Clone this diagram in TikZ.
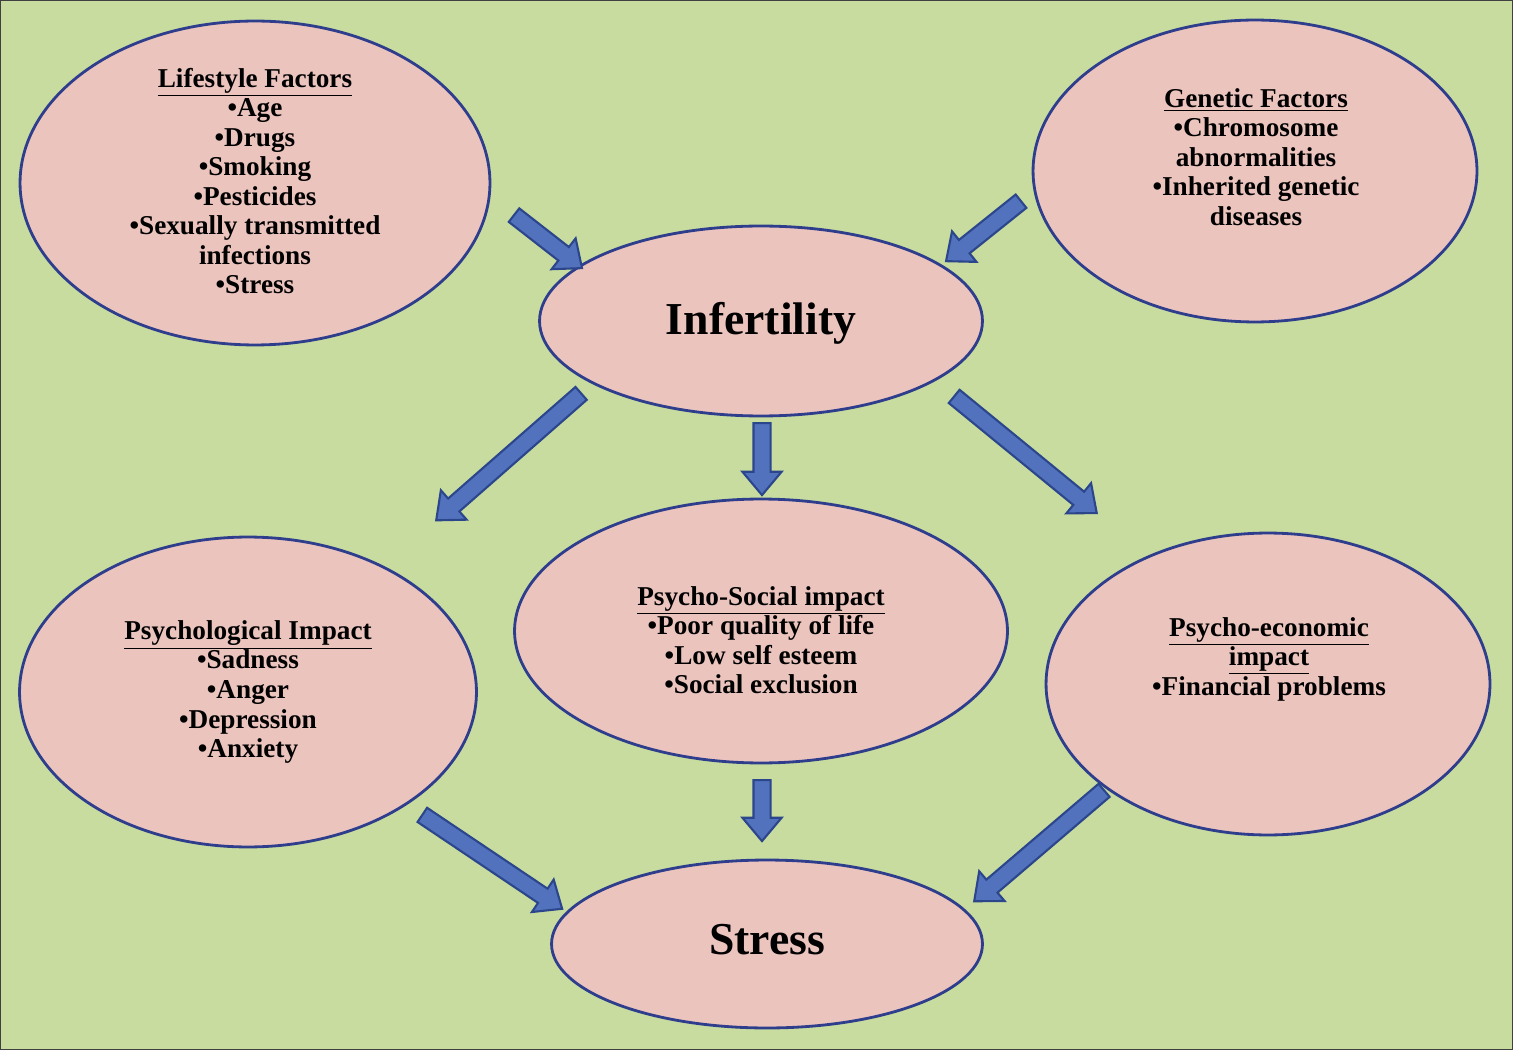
\documentclass[tikz,border=0pt]{standalone}
\usepackage{fontspec}
\setmainfont{Liberation Serif}
\usetikzlibrary{shapes.geometric,shapes.arrows,calc}
\definecolor{bggreen}{RGB}{200,220,160}
\definecolor{pinkfill}{RGB}{236,196,190}
\definecolor{ringblue}{RGB}{46,62,140}
\definecolor{arrowfill}{RGB}{82,114,190}
\definecolor{arrowedge}{RGB}{44,70,140}
\tikzset{
    bubble/.style={ellipse,draw=ringblue,fill=pinkfill,line width=1.6pt,inner sep=0pt},
    bubbletext/.style={align=center,font=\bfseries\fontsize{15.5}{16.8}\selectfont},
    bigtext/.style={font=\bfseries\fontsize{26}{30}\selectfont},
    fatarrow/.style={single arrow,draw=arrowedge,fill=arrowfill,line width=1.2pt,
        inner sep=0.15cm,single arrow head extend=0.22cm,single arrow tip angle=80,
        sloped,allow upside down,midway}
}
\begin{document}
\begin{tikzpicture}[x=0.02cm,y=-0.02cm]
        \useasboundingbox (0,0) rectangle (1513,1050);
        \draw[fill=bggreen,draw=black!75,line width=1.5pt] (0,0) rectangle (1513,1050);

        \node (life)    at (255,183)  [bubble,minimum width=9.4cm,minimum height=6.48cm] {};
        \node (gen)     at (1255,171) [bubble,minimum width=8.88cm,minimum height=6.04cm] {};
        \node (infert)  at (761,321)  [bubble,minimum width=8.86cm,minimum height=3.8cm] {};
        \node (psych)   at (248,692)  [bubble,minimum width=9.14cm,minimum height=6.2cm] {};
        \node (social)  at (761,631)  [bubble,minimum width=9.86cm,minimum height=5.28cm] {};
        \node (econ)    at (1268,684) [bubble,minimum width=8.88cm,minimum height=6.04cm] {};
        \node (stress)  at (767,944)  [bubble,minimum width=8.62cm,minimum height=3.36cm] {};

        \node (lifetxt)   at (255,181)  [bubbletext] {\underline{Lifestyle Factors}\\•Age\\•Drugs\\•Smoking\\•Pesticides\\•Sexually transmitted\\infections\\•Stress};
        \node (gentxt)    at (1256,157) [bubbletext] {\underline{Genetic Factors}\\•Chromosome\\abnormalities\\•Inherited genetic\\diseases};
        \node (inferttxt) at (761,323)  [bigtext] {Infertility};
        \node (psychtxt)  at (248,692)  [bubbletext] {\underline{Psychological Impact}\\•Sadness\\•Anger\\•Depression\\•Anxiety};
        \node (socialtxt) at (761,640)  [bubbletext] {\underline{Psycho-Social impact}\\•Poor quality of life\\•Low self esteem\\•Social exclusion};
        \node (econtxt)   at (1269,659) [bubbletext] {\underline{Psycho-economic}\\\underline{impact}\\•Financial problems};
        \node (stresstxt) at (767,940)  [bigtext] {Stress};

        \coordinate (a1) at (510,212);  \coordinate (b1) at (578,265);
        \coordinate (a2) at (1025,198); \coordinate (b2) at (950,258);
        \coordinate (a3) at (585,390);  \coordinate (b3) at (440,517);
        \coordinate (a4) at (762,418);  \coordinate (b4) at (762,490);
        \coordinate (a5) at (950,393);  \coordinate (b5) at (1093,510);
        \coordinate (a6) at (418,812);  \coordinate (b6) at (558,906);
        \coordinate (a7) at (762,775);  \coordinate (b7) at (762,836);
        \coordinate (a8) at (1108,787); \coordinate (b8) at (978,898);

        \path let \p1=($(b1)-(a1)$), \n1={veclen(\x1,\y1)} in (a1) -- (b1) node (arr1) [fatarrow,minimum height=\n1] {};
        \path let \p1=($(b2)-(a2)$), \n1={veclen(\x1,\y1)} in (a2) -- (b2) node (arr2) [fatarrow,minimum height=\n1] {};
        \path let \p1=($(b3)-(a3)$), \n1={veclen(\x1,\y1)} in (a3) -- (b3) node (arr3) [fatarrow,minimum height=\n1] {};
        \path let \p1=($(b4)-(a4)$), \n1={veclen(\x1,\y1)} in (a4) -- (b4) node (arr4) [fatarrow,minimum height=\n1] {};
        \path let \p1=($(b5)-(a5)$), \n1={veclen(\x1,\y1)} in (a5) -- (b5) node (arr5) [fatarrow,minimum height=\n1] {};
        \path let \p1=($(b6)-(a6)$), \n1={veclen(\x1,\y1)} in (a6) -- (b6) node (arr6) [fatarrow,minimum height=\n1] {};
        \path let \p1=($(b7)-(a7)$), \n1={veclen(\x1,\y1)} in (a7) -- (b7) node (arr7) [fatarrow,minimum height=\n1] {};
        \path let \p1=($(b8)-(a8)$), \n1={veclen(\x1,\y1)} in (a8) -- (b8) node (arr8) [fatarrow,minimum height=\n1] {};
    \end{tikzpicture}
\end{document}
